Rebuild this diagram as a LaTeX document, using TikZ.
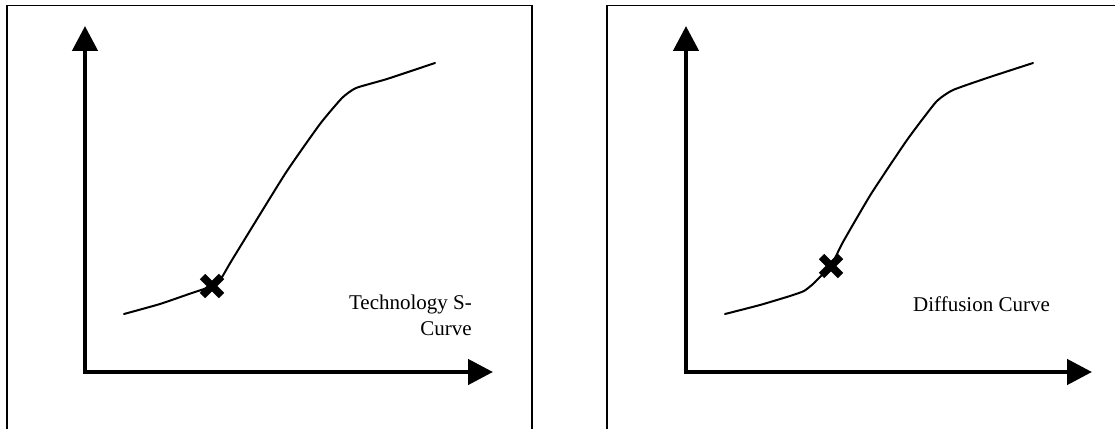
\documentclass[tikz,border=0pt]{standalone}
\usepackage{fontspec}
\setmainfont{Liberation Serif}
\usetikzlibrary{arrows.meta}

\tikzset{
  frameline/.style={line width=1.8pt, line cap=rect},
  axisline/.style={line width=4.6pt, line join=miter,
    {Triangle[length=25pt, width=25pt]}-{Triangle[length=25pt, width=25pt]}},
  curveline/.style={line width=2pt, line cap=round, line join=round},
  crossmark/.style={line width=7.5pt, line cap=butt},
  caption/.style={inner sep=0pt, font=\fontsize{21}{26}\selectfont}
}

\begin{document}
\begin{tikzpicture}[x=1pt, y=-1pt]
  \useasboundingbox (0,0) rectangle (1115,428);

  % ---------- left panel: technology S-curve ----------
  \draw[frameline] (7,430) -- (7,5.5) -- (532,5.5) -- (532,430);

  \coordinate (oL) at (85,372);
  \coordinate (yL) at (85,26);
  \coordinate (xL) at (493,372);
  \draw[axisline] (yL) -- (oL) -- (xL);

  \draw[curveline] plot[smooth, tension=0.3] coordinates {
    (124,314) (160,304) (189,294) (204,289) (213,285) (222,277)
    (232,260) (285,174) (320,124) (342,98) (356,88)
    (387,79) (435,63)};

  \node (mL) at (212,286) {};
  \draw[crossmark] ([shift={(-9.5,-9.5)}]mL.center) -- ([shift={(9.5,9.5)}]mL.center)
                   ([shift={(-9.5,9.5)}]mL.center) -- ([shift={(9.5,-9.5)}]mL.center);

  \node[caption, align=right, anchor=north east] (tL) at (472,295)
    {Technology S-\\Curve};

  % ---------- right panel: diffusion curve ----------
  \draw[frameline] (607,430) -- (607,5.5) -- (1120,5.5);

  \coordinate (oR) at (686,372);
  \coordinate (yR) at (686,26);
  \coordinate (xR) at (1092,372);
  \draw[axisline] (yR) -- (oR) -- (xR);

  \draw[curveline] plot[smooth, tension=0.3] coordinates {
    (725,314) (760,305) (790,296) (804,291) (813,284) (821,276)
    (831,266) (843,242) (871,194) (907,140) (936,102)
    (953,90) (990,77) (1033,63)};

  \node (mR) at (831,266) {};
  \draw[crossmark] ([shift={(-9.5,-9.5)}]mR.center) -- ([shift={(9.5,9.5)}]mR.center)
                   ([shift={(-9.5,9.5)}]mR.center) -- ([shift={(9.5,-9.5)}]mR.center);

  \node[caption, anchor=base west] (tR) at (913,311) {Diffusion Curve};
\end{tikzpicture}
\end{document}
